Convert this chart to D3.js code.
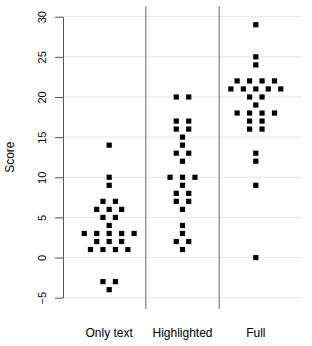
<!DOCTYPE html>
<meta charset="utf-8">
<head>
  <title>Scores by condition</title>
</head>

<style>
body { margin: 0; background: #fff; }
text { font-family: "Liberation Sans", Arial, sans-serif; fill: #000; }
</style>

<body>
  <svg width="312" height="346"></svg>

  <script src="https://cdn.jsdelivr.net/npm/d3@7"></script>

  <script>
var categories = ['Only text', 'Highlighted', 'Full'];

var onlyText = [14, 10, 9, 7, 7, 6, 6, 6, 5, 5, 4, 3, 3, 3, 3, 3, 2, 2, 2, 1, 1, 1, 1, -3, -3, -4];
var highlighted = [20, 20, 17, 17, 16, 16, 15, 14, 13, 13, 12, 10, 10, 10, 9, 8, 8, 7, 7, 6, 4, 3, 2, 2, 1];
var full = [29, 25, 24, 22, 22, 22, 22, 21, 21, 21, 21, 21, 20, 20, 19, 18, 18, 18, 18, 17, 17, 16, 16, 13, 12, 9, 0];

var yTicks = [-5, 0, 5, 10, 15, 20, 25, 30];

var series = [onlyText, highlighted, full];

var svg = d3.select('svg');

var x = d3.scaleLinear().domain([0.37, 3.63]).range([63, 302]);
var y = d3.scaleLinear().domain([-5, 30]).range([297.7, 16.7]);
var yLim = [-6.4, 31.3];
var step = 0.17; // horizontal spacing between points on the same row

// gridlines
svg.append('g')
  .selectAll('line')
  .data(yTicks)
  .enter()
  .append('line')
  .attr('x1', x.range()[0])
  .attr('x2', x.range()[1])
  .attr('y1', function(d) { return y(d); })
  .attr('y2', function(d) { return y(d); })
  .attr('stroke', '#e6e6e6')
  .attr('stroke-width', 1);

// separators between groups
svg.append('g')
  .selectAll('line')
  .data([1.5, 2.5])
  .enter()
  .append('line')
  .attr('x1', function(d) { return x(d); })
  .attr('x2', function(d) { return x(d); })
  .attr('y1', y(yLim[1]))
  .attr('y2', y(yLim[0]))
  .attr('stroke', '#666')
  .attr('stroke-width', 1);

// y axis
var yAxis = d3.axisLeft(y).tickValues(yTicks).tickSize(8).tickSizeOuter(0);
var ga = svg.append('g')
  .attr('transform', 'translate(' + x.range()[0] + ',0)')
  .call(yAxis);
ga.select('.domain').attr('stroke', '#555');
ga.selectAll('.tick line').attr('stroke', '#555');
ga.selectAll('.tick text')
  .attr('font-size', 11)
  .attr('font-family', '"Liberation Sans", Arial, sans-serif')
  .attr('fill', '#000')
  .attr('text-anchor', 'middle')
  .attr('transform', function(d) { return 'translate(-21,' + 0 + ') rotate(-90)'; })
  .attr('x', 0)
  .attr('y', 0)
  .attr('dy', '0.35em');

svg.append('text')
  .attr('transform', 'translate(14,' + y(12.5) + ') rotate(-90)')
  .attr('text-anchor', 'middle')
  .attr('font-size', 12)
  .text('Score');

// category labels
svg.append('g')
  .selectAll('text')
  .data(categories)
  .enter()
  .append('text')
  .attr('x', function(d, i) { return x(i + 1); })
  .attr('y', 337)
  .attr('text-anchor', 'middle')
  .attr('font-size', 12)
  .text(function(d) { return d; });

// swarm points: each row of equal scores is centred on its group
var points = [];
series.forEach(function(vals, gi) {
  var rows = d3.group(vals, function(v) { return v; });
  rows.forEach(function(row, v) {
    row.forEach(function(_, i) {
      points.push({ g: gi + 1, v: v, off: (i - (row.length - 1) / 2) * step });
    });
  });
});

var size = 5.2;
svg.append('g')
  .selectAll('rect')
  .data(points)
  .enter()
  .append('rect')
  .attr('x', function(d) { return x(d.g + d.off) - size / 2; })
  .attr('y', function(d) { return y(d.v) - size / 2; })
  .attr('width', size)
  .attr('height', size)
  .attr('fill', '#000');
  </script>
</body>
</html>
